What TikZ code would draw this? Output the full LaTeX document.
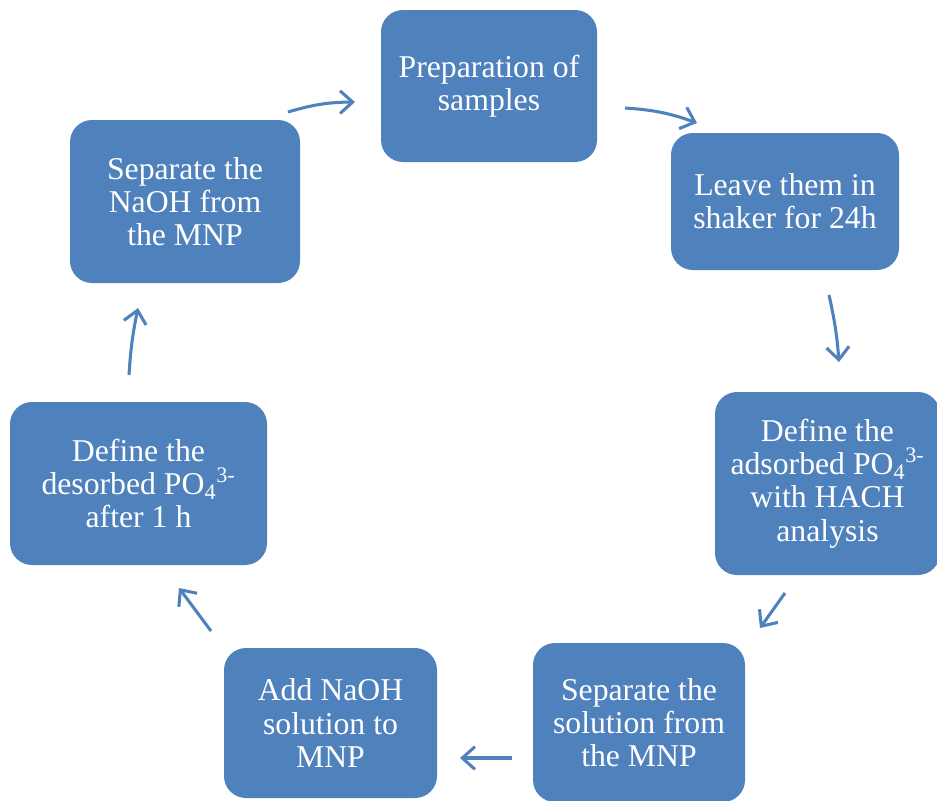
\documentclass[tikz,border=0pt]{standalone}
\usepackage{fontspec}
\setmainfont{Liberation Serif}
\usetikzlibrary{arrows.meta}
\definecolor{boxblue}{HTML}{4F81BD}
\begin{document}
\begin{tikzpicture}[x=0.75pt,y=-0.75pt,
  box/.style={fill=boxblue, draw=none, rounded corners=16.5pt, text=white,
    align=center, inner sep=0pt, font=\fontsize{23.8}{24.9}\selectfont},
  flow/.style={draw=boxblue, line width=2.3pt, -{Straight Barb[length=9.5pt,width=17pt,line width=2.3pt]}}]
\useasboundingbox (0,0) rectangle (937,800);
\begin{scope}
\clip (0,0) rectangle (937,800);
\node[box, minimum width=162pt, minimum height=114pt] (prep) at (489,86) {Preparation of\\samples};
\node[box, minimum width=171pt, minimum height=102.75pt] (leave) at (785,201.5) {Leave them in\\shaker for 24h};
\node[box, minimum width=168.75pt, minimum height=137.25pt] (adsorb) at (827.5,483.5) {Define the\\adsorbed PO\textsubscript{4}\textsuperscript{3-}\\with HACH\\analysis};
\node[box, minimum width=159pt, minimum height=119.25pt] (sepsol) at (639,722.5) {Separate the\\solution from\\the MNP};
\node[box, minimum width=159.75pt, minimum height=112.5pt] (addnaoh) at (330.5,723) {Add NaOH\\solution to\\MNP};
\node[box, minimum width=192.75pt, minimum height=122.25pt] (desorb) at (138.5,483.5) {Define the\\desorbed PO\textsubscript{4}\textsuperscript{3-}\\after 1 h};
\node[box, minimum width=172.5pt, minimum height=122.25pt] (sepnaoh) at (185,201.5) {Separate the\\NaOH from\\the MNP};
\end{scope}
\coordinate (a1s) at (288,112); \coordinate (a1e) at (355,102);
\coordinate (a2s) at (625,108); \coordinate (a2e) at (697,123);
\coordinate (a3s) at (829,295); \coordinate (a3e) at (839,362);
\coordinate (a4s) at (785,593); \coordinate (a4e) at (760,628);
\coordinate (a5s) at (512,758); \coordinate (a5e) at (460,758);
\coordinate (a6s) at (211,631); \coordinate (a6e) at (179,588);
\coordinate (a7s) at (129,375); \coordinate (a7e) at (138,308);
\draw[flow] (a1s) to[bend left=8] (a1e);
\draw[flow] (a2s) to[bend left=8] (a2e);
\draw[flow] (a3s) to[bend left=4] (a3e);
\draw[flow] (a4s) -- (a4e);
\draw[flow] (a5s) -- (a5e);
\draw[flow] (a6s) -- (a6e);
\draw[flow] (a7s) to[bend left=4] (a7e);
\end{tikzpicture}
\end{document}
